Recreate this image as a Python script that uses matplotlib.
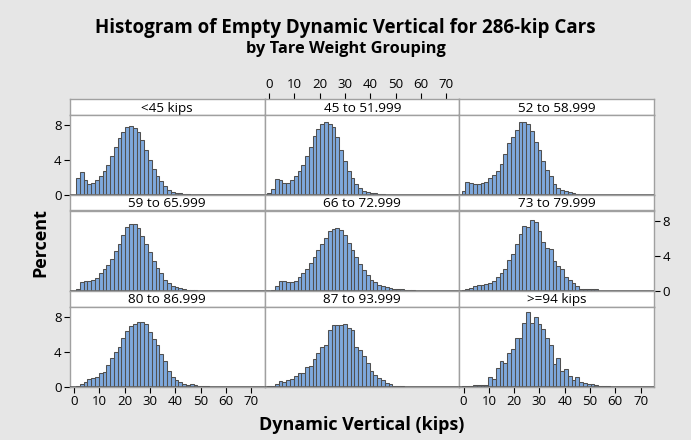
import matplotlib.pyplot as plt
import numpy as np

plt.rcParams['font.family'] = ['Open Sans', 'DejaVu Sans']

# percent per 1.5-kip bin, bins centred at 0, 1.5, 3.0, ...
bin_width = 1.5

panel_labels = ["<45 kips", "45 to 51.999", "52 to 58.999",
                "59 to 65.999", "66 to 72.999", "73 to 79.999",
                "80 to 86.999", "87 to 93.999", ">=94 kips"]

pct_lt45 = [0, 1.93, 2.63, 1.7, 1.27, 1.39, 1.7, 2.2, 2.74, 3.47, 4.48, 5.44,
            6.5, 7.26, 7.8, 7.9, 7.65, 7.2, 6.25, 5.17, 4.0, 3.0, 2.16, 1.58,
            1.0, 0.62, 0.39, 0.27, 0.19, 0.1, 0.08, 0.05, 0.03, 0.02, 0.02]
pct_45_52 = [0.23, 0.7, 1.8, 1.7, 1.35, 1.35, 1.66, 2.16, 2.7, 3.47, 4.48, 5.5,
             6.7, 7.57, 8.1, 8.3, 8.1, 7.76, 6.64, 5.17, 3.86, 2.78, 1.9, 1.27,
             0.85, 0.5, 0.35, 0.23, 0.19, 0.1, 0.07, 0.05, 0.03, 0.02]
pct_52_59 = [0.46, 1.54, 1.35, 1.27, 1.24, 1.39, 1.54, 1.9, 2.28, 2.78, 3.55,
             4.7, 5.95, 6.64, 7.4, 8.38, 8.3, 8.1, 7.34, 6.06, 5.1, 3.94, 2.9,
             2.16, 1.24, 0.85, 0.58, 0.42, 0.35, 0.23, 0.1, 0.05, 0.03]
pct_59_66 = [0, 0.15, 1.0, 1.06, 1.08, 1.25, 1.45, 1.95, 2.45, 2.9, 3.6, 4.5,
             5.35, 6.4, 7.3, 7.65, 7.6, 7.1, 6.2, 5.3, 4.35, 3.35, 2.6, 2.0,
             1.25, 0.86, 0.55, 0.35, 0.24, 0.16, 0.08, 0.05, 0.03]
pct_66_73 = [0, 0.1, 0.55, 1.06, 1.06, 0.94, 1.0, 1.14, 1.53, 1.96, 2.43, 3.1,
             3.8, 4.6, 5.37, 6.04, 6.75, 7.06, 7.2, 6.94, 6.4, 5.45, 4.6, 3.8,
             3.0, 2.3, 1.73, 1.25, 1.0, 0.67, 0.5, 0.39, 0.27, 0.2, 0.16, 0.12,
             0.08, 0.04, 0.04]
pct_73_80 = [0.05, 0.15, 0.27, 0.47, 0.63, 0.63, 0.7, 0.86, 1.14, 1.53, 2.04,
             2.43, 3.53, 4.2, 5.37, 6.47, 7.33, 7.25, 8.04, 7.84, 6.75, 5.57,
             4.9, 4.78, 3.4, 2.82, 2.43, 1.53, 1.25, 0.86, 0.47, 0.16, 0.16,
             0.16, 0.16, 0.16]
pct_80_87 = [0, 0.08, 0.3, 0.57, 0.9, 0.95, 1.07, 1.52, 1.7, 2.48, 3.24, 3.92,
             4.57, 5.6, 6.3, 6.93, 7.2, 7.35, 7.35, 7.12, 6.28, 5.45, 4.69,
             3.73, 2.86, 1.79, 1.07, 0.76, 0.5, 0.3, 0.15, 0.23, 0.15, 0.05,
             0.03, 0.02]
pct_87_94 = [0.04, 0.06, 0.23, 0.65, 0.57, 0.76, 0.84, 1.18, 1.49, 1.52, 2.25,
             2.32, 3.2, 3.85, 4.53, 4.76, 6.44, 7.05, 7.05, 7.05, 7.12, 6.67,
             6.48, 4.57, 4.15, 3.5, 2.74, 1.79, 1.33, 0.95, 0.72, 0.42, 0.23,
             0.11, 0.11, 0.11]
pct_ge94 = [0.02, 0.05, 0.1, 0.15, 0.15, 0.15, 0.2, 1.07, 0.88, 2.1, 2.97,
            2.67, 3.81, 4.27, 5.52, 5.52, 7.24, 8.57, 7.24, 8.0, 7.12, 6.55,
            5.6, 4.76, 2.59, 3.24, 1.72, 2.02, 1.22, 0.69, 1.03, 0.57, 0.38,
            0.23, 0.3, 0.15, 0.1, 0.1, 0.02]

panels = [pct_lt45, pct_45_52, pct_52_59, pct_59_66, pct_66_73, pct_73_80,
          pct_80_87, pct_87_94, pct_ge94]

x_ticks = [0, 10, 20, 30, 40, 50, 60, 70]
y_ticks = [0, 4, 8]

W, H = 691, 440
fig = plt.figure(figsize=(W / 100, H / 100), dpi=100, facecolor='#e6e6e6')

def fx(px):
    return px / W

def fy(py):
    return 1 - py / H

col_left = [70, 265, 459.5]
col_w = 194.5
row_top = [99.5, 195, 291]
strip_h = 15.5
data_h = 80
border = '#a0a0a0'
tick_kw = dict(colors='black', labelsize=9.5, length=4, width=0.8, pad=2)

for i, vals in enumerate(panels):
    r, c = divmod(i, 3)
    x0 = col_left[c]
    top = row_top[r]
    sax = fig.add_axes([fx(x0), fy(top + strip_h), col_w / W, strip_h / H])
    dax = fig.add_axes([fx(x0), fy(top + strip_h + data_h), col_w / W, data_h / H])
    for ax in (sax, dax):
        ax.set_facecolor('white')
        ax.set_xlim(-1.6, 75.3)
        ax.set_xticks([])
        ax.set_yticks([])
        for s in ax.spines.values():
            s.set_color(border)
            s.set_linewidth(1)
    sax.text(0.5, 0.45, panel_labels[i], transform=sax.transAxes,
             ha='center', va='center', fontsize=9.7)

    centers = np.arange(len(vals)) * bin_width
    dax.bar(centers, vals, width=bin_width, color='#7ea8dc',
            edgecolor='#505050', linewidth=0.75, zorder=2)
    dax.axhline(0, color='#606060', lw=1.2, zorder=3)
    dax.set_ylim(0, 9.15)

    if c == 0 and r != 1:
        dax.set_yticks(y_ticks)
        dax.tick_params(axis='y', left=True, **tick_kw)
        for t in dax.get_yticklines():
            t.set_color('#808080')
    if c == 2 and r == 1:
        dax.yaxis.tick_right()
        dax.set_yticks(y_ticks)
        dax.tick_params(axis='y', right=True, **tick_kw)
        for t in dax.get_yticklines():
            t.set_color('#808080')
    if r == 2 and c != 1:
        dax.set_xticks(x_ticks)
        dax.tick_params(axis='x', bottom=True, **tick_kw)
        for t in dax.get_xticklines():
            t.set_color('#808080')
    if r == 0 and c == 1:
        sax.xaxis.tick_top()
        sax.set_xticks(x_ticks)
        sax.tick_params(axis='x', top=True, **tick_kw)
        for t in sax.get_xticklines():
            t.set_color('#808080')

fig.text(0.5, fy(28), "Histogram of Empty Dynamic Vertical for 286-kip Cars",
         ha='center', va='center', fontsize=13.5, weight='bold')
fig.text(0.5, fy(49), "by Tare Weight Grouping",
         ha='center', va='center', fontsize=11.8, weight='bold')
fig.text(fx(40), fy(243), "Percent", rotation=90,
         ha='center', va='center', fontsize=13, weight='bold')
fig.text(fx(362), fy(425), "Dynamic Vertical (kips)",
         ha='center', va='center', fontsize=13, weight='bold')

fig.savefig('out.png', dpi=100, facecolor=fig.get_facecolor())
